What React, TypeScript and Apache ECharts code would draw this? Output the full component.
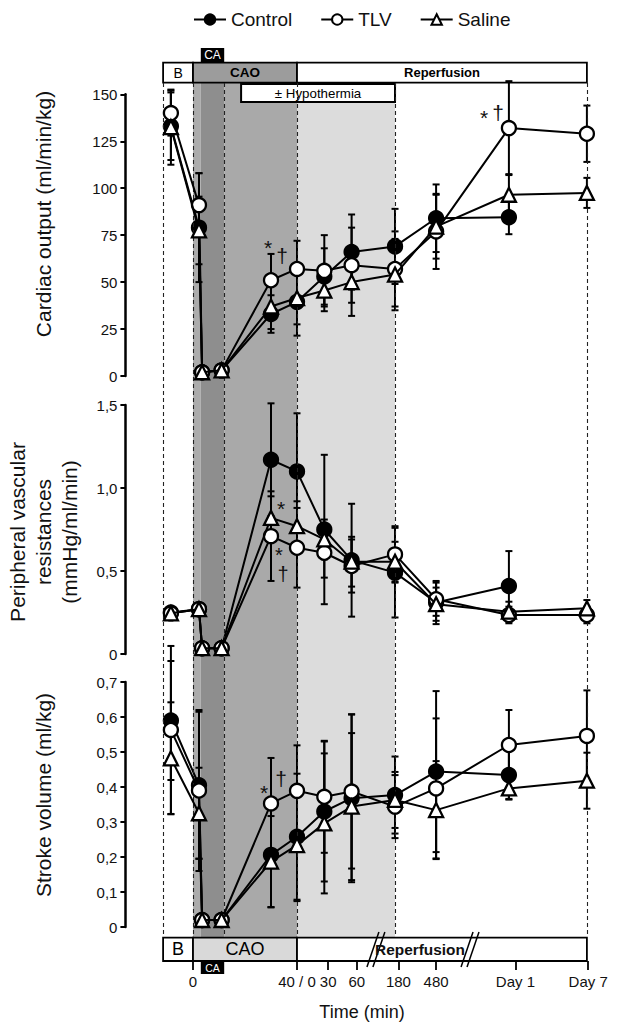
import React, { useEffect, useRef } from 'react';
import * as echarts from 'echarts';

const FONT = '"Liberation Sans", Arial, Helvetica, sans-serif';

// Time positions on a piecewise axis (1 unit = 1 min during CAO)
const timePos = [-8.5, 2.3, 3.5, 11, 30, 40, 50.5, 61, 77.7, 93.5, 121.5, 151.5];
const tickPos = [0, 40, 52, 63, 79, 93.5, 124, 152];
const tickLabels = ['0', '40 / 0', '30', '60', '180', '480', 'Day 1', 'Day 7'];

// Cardiac output (ml/min/kg)
const coControl = [133, 79, 2, 3, 33, 39.5, 53, 66, 69, 84, 84.5];
const coControlSD = [18, 29, 1, 1, 10, 18, 15, 20, 20, 18, 9];
const coTLV = [140, 91, 2, 3, 51, 57, 56, 59, 57, 77, 132, 129];
const coTLVSD = [12, 17, 1, 1, 14, 15, 19, 20, 20, 20, 25, 15];
const coSaline = [132.5, 77.5, 2, 3, 37, 41.5, 45.5, 50, 54, 79.5, 96.5, 97.5];
const coSalineSD = [20, 18, 1, 1, 12, 14, 11, 18, 19, 17, 11, 8];

// Peripheral vascular resistances (mmHg/ml/min)
const pvrControl = [0.25, 0.27, 0.035, 0.035, 1.17, 1.1, 0.75, 0.565, 0.49, 0.31, 0.41];
const pvrControlSD = [0.02, 0.03, 0.01, 0.01, 0.34, 0.35, 0.45, 0.34, 0.27, 0.13, 0.21];
const pvrTLV = [0.245, 0.27, 0.035, 0.035, 0.71, 0.64, 0.61, 0.53, 0.6, 0.33, 0.235, 0.235];
const pvrTLVSD = [0.02, 0.03, 0.01, 0.01, 0.27, 0.24, 0.15, 0.16, 0.17, 0.1, 0.05, 0.05];
const pvrSaline = [0.245, 0.27, 0.035, 0.035, 0.82, 0.77, 0.69, 0.556, 0.556, 0.3, 0.255, 0.275];
const pvrSalineSD = [0.02, 0.03, 0.01, 0.01, 0.13, 0.15, 0.12, 0.15, 0.12, 0.1, 0.06, 0.05];

// Stroke volume (ml/kg)
const svControl = [0.59, 0.405, 0.02, 0.02, 0.206, 0.258, 0.33, 0.368, 0.377, 0.444, 0.434];
const svControlSD = [0.17, 0.21, 0.01, 0.01, 0.15, 0.18, 0.2, 0.24, 0.11, 0.23, 0.07];
const svTLV = [0.563, 0.39, 0.02, 0.02, 0.353, 0.389, 0.372, 0.387, 0.344, 0.396, 0.52, 0.546];
const svTLVSD = [0.24, 0.23, 0.01, 0.01, 0.13, 0.13, 0.16, 0.22, 0.09, 0.2, 0.1, 0.13];
const svSaline = [0.482, 0.325, 0.02, 0.02, 0.187, 0.234, 0.296, 0.344, 0.363, 0.334, 0.396, 0.418];
const svSalineSD = [0.16, 0.13, 0.01, 0.01, 0.13, 0.16, 0.2, 0.21, 0.08, 0.14, 0.03, 0.08];

// Phases (axis units)
const phaseB = [-11.5, 0];
const phaseCAO = [0, 40];
const phaseReperf = [40, 151.5];
const phaseCA = [3, 12];
const phaseHypo = [18.5, 77.7];
const dashedAt = [-11.5, 0, 12, 40, 77.7, 151.5];

const XMIN = -26;
const XMAX = 156;
const GL = 125.4;
const GR = 30.4;

const groups = [
  { name: 'Control', symbol: 'circle', fill: '#000' },
  { name: 'TLV', symbol: 'circle', fill: '#fff' },
  { name: 'Saline', symbol: 'triangle', fill: '#fff' },
];

const panels = [
  { vals: [coControl, coTLV, coSaline], sds: [coControlSD, coTLVSD, coSalineSD] },
  { vals: [pvrControl, pvrTLV, pvrSaline], sds: [pvrControlSD, pvrTLVSD, pvrSalineSD] },
  { vals: [svControl, svTLV, svSaline], sds: [svControlSD, svTLVSD, svSalineSD] },
];

const commaFmt = (v: number) => (v === 0 ? '0' : v.toFixed(1).replace('.', ','));

function errRender(params: any, api: any) {
  const x = api.value(0);
  const lo = api.value(1);
  const hi = api.value(2);
  const p1 = api.coord([x, hi]);
  const p2 = api.coord([x, lo]);
  const w = 3.5;
  const st = { stroke: '#000', lineWidth: 2 };
  return {
    type: 'group',
    children: [
      { type: 'line', shape: { x1: p1[0], y1: p1[1], x2: p2[0], y2: p2[1] }, style: st },
      { type: 'line', shape: { x1: p1[0] - w, y1: p1[1], x2: p1[0] + w, y2: p1[1] }, style: st },
      { type: 'line', shape: { x1: p2[0] - w, y1: p2[1], x2: p2[0] + w, y2: p2[1] }, style: st },
    ],
  };
}

function box(x: number[], y: number[], fill: string, label: any, bw = 1.8) {
  return [
    {
      coord: [x[0], y[0]],
      itemStyle: { color: fill, borderColor: '#000', borderWidth: bw, opacity: 1 },
      label: label
        ? { show: true, position: 'inside', fontFamily: FONT, color: '#000', ...label }
        : { show: false },
    },
    { coord: [x[1], y[1]] },
  ];
}

export default function App() {
  const ref = useRef<HTMLDivElement>(null);
  useEffect(() => {
    document.body.style.margin = '0';
    if (!ref.current) return;
    const chart = echarts.init(ref.current, undefined, { renderer: 'svg' });

    const gridDefs = [
      { top: 94.3, height: 281.7 },
      { top: 405, height: 249 },
      { top: 682, height: 245 },
      { top: 937.7, height: 23.3 },
      { top: 0, height: 1030 },
    ];
    const grid = gridDefs.map((g) => ({ left: GL, right: GR, top: g.top, height: g.height }));

    const yBase = {
      position: 'left',
      z: 10,
      axisLine: { show: true, onZero: false, lineStyle: { color: '#000', width: 2.5 } },
      axisTick: { show: true, inside: false, length: 5, lineStyle: { color: '#000', width: 2 } },
      axisLabel: { fontSize: 15, fontFamily: FONT, color: '#111', margin: 8 },
      splitLine: { show: false },
    };

    const xAxis: any[] = [0, 1, 2].map((i) => ({
      type: 'value', gridIndex: i, min: XMIN, max: XMAX, show: false,
    }));
    xAxis.push({
      type: 'value', gridIndex: 3, min: XMIN, max: XMAX, position: 'bottom', z: 10,
      axisLine: { show: false, onZero: false },
      splitLine: { show: false },
      axisTick: { show: true, length: 9, customValues: tickPos, lineStyle: { color: '#000', width: 1.8 } },
      axisLabel: {
        show: true, customValues: tickPos, fontSize: 15, fontFamily: FONT, color: '#111', margin: 13,
        formatter: (v: number) => {
          const i = tickPos.findIndex((t) => Math.abs(t - v) < 1e-6);
          return i >= 0 ? tickLabels[i] : '';
        },
      },
      name: 'Time (min)', nameLocation: 'middle', nameGap: 42,
      nameTextStyle: { fontSize: 18, fontFamily: FONT, color: '#111' },
    });
    xAxis.push({ type: 'value', gridIndex: 4, min: XMIN, max: XMAX, show: false });

    const yAxis: any[] = [
      { type: 'value', gridIndex: 0, min: 0, max: 150, interval: 25, ...yBase },
      { type: 'value', gridIndex: 1, min: 0, max: 1.5, interval: 0.5, ...yBase,
        axisLabel: { ...yBase.axisLabel, formatter: commaFmt } },
      { type: 'value', gridIndex: 2, min: 0, max: 0.7, interval: 0.1, ...yBase,
        axisLabel: { ...yBase.axisLabel, formatter: commaFmt } },
      { type: 'value', gridIndex: 3, min: 0, max: 1, show: false },
      { type: 'value', gridIndex: 4, min: 0, max: 1030, inverse: true, show: false },
    ];

    const series: any[] = [];

    // Background bands
    series.push({
      type: 'line', xAxisIndex: 4, yAxisIndex: 4, data: [[-50, 2000]], symbol: 'none',
      silent: true, z: 1,
      markArea: {
        silent: true,
        data: [
          [{ coord: [0, 83], itemStyle: { color: '#acacac' } }, { coord: [3, 937] }],
          [{ coord: [3, 83], itemStyle: { color: '#8e8e8e' } }, { coord: [12, 937] }],
          [{ coord: [12, 83], itemStyle: { color: '#a9a9a9' } }, { coord: [40, 937] }],
          [{ coord: [40, 83], itemStyle: { color: '#dcdcdc' } }, { coord: [77.7, 937] }],
        ],
      },
    });
    // Dashed phase lines
    series.push({
      type: 'line', xAxisIndex: 4, yAxisIndex: 4, data: [[-50, 2000]], symbol: 'none',
      silent: true, z: 2,
      markLine: {
        silent: true, symbol: 'none', label: { show: false },
        lineStyle: { color: '#222', width: 1.1, type: [4, 3] },
        data: dashedAt.map((x) => [{ coord: [x, 83] }, { coord: [x, 937] }]),
      },
    });

    // Data series
    panels.forEach((p, pi) => {
      groups.forEach((g, gi) => {
        const vals = p.vals[gi];
        const sds = p.sds[gi];
        series.push({
          type: 'custom', name: `err-${pi}-${gi}`, xAxisIndex: pi, yAxisIndex: pi,
          renderItem: errRender, clip: false, silent: true, z: 3,
          encode: { x: 0, y: [1, 2] },
          data: vals.map((v, i) => [timePos[i], v - sds[i], v + sds[i]]),
        });
      });
      groups.forEach((g, gi) => {
        const vals = p.vals[gi];
        series.push({
          type: 'line', name: g.name, xAxisIndex: pi, yAxisIndex: pi,
          data: vals.map((v, i) => [timePos[i], v]),
          symbol: g.symbol, symbolSize: 14, showSymbol: true, clip: false,
          itemStyle: { color: g.fill, borderColor: '#000', borderWidth: 2.3 },
          lineStyle: { color: '#000', width: 2 },
          z: 4 + gi,
        });
      });
    });

    // Boxes (top phase bar, hypothermia, bottom phase bar, CA tags)
    series.push({
      type: 'line', xAxisIndex: 4, yAxisIndex: 4, data: [[-50, 2000]], symbol: 'none',
      silent: true, z: 8,
      markArea: {
        silent: true,
        data: [
          box(phaseB, [62.7, 82.7], '#fff', { formatter: 'B', fontSize: 14 }),
          box(phaseCAO, [62.7, 82.7], '#9c9c9c', { formatter: 'CAO', fontSize: 13.5, fontWeight: 'bold' }),
          box(phaseReperf, [62.7, 82.7], '#fff', { formatter: 'Reperfusion', fontSize: 13, fontWeight: 'bold' }),
          box(phaseCA, [48, 62.7], '#000', { formatter: 'CA', fontSize: 12, color: '#fff' }, 0),
          box(phaseHypo, [84, 102], '#fff', { formatter: '± Hypothermia', fontSize: 13.3 }, 2),
          box(phaseB, [937.7, 961], '#fff', { formatter: 'B', fontSize: 18 }),
          box(phaseCAO, [937.7, 961], '#d9d9d9', { formatter: 'CAO', fontSize: 18 }),
          box(phaseReperf, [937.7, 961], '#fff', null),
          box(phaseCA, [962, 974], '#000', { formatter: 'CA', fontSize: 10.5, color: '#fff' }, 0),
        ],
      },
      markLine: {
        silent: true, symbol: 'none', label: { show: false },
        lineStyle: { color: '#000', width: 1.5, type: 'solid' },
        data: [
          [{ coord: [66.9, 967] }, { coord: [71.5, 932] }],
          [{ coord: [69.2, 967] }, { coord: [73.8, 932] }],
          [{ coord: [103.1, 967] }, { coord: [107.7, 932] }],
          [{ coord: [105.4, 967] }, { coord: [110, 932] }],
        ],
      },
    });

    const txt = (text: string, x: number, y: number, size: number, extra: any = {}) => ({
      type: 'text', x, y, silent: true, z: 20,
      style: { text, fontSize: size, fontFamily: FONT, fill: '#111', align: 'center', verticalAlign: 'middle', ...extra },
    });

    const graphic: any[] = [
      { ...txt('Cardiac output (ml/min/kg)', 43, 214, 21), rotation: Math.PI / 2 },
      { ...txt('Peripheral vascular\nresistances\n(mmHg/ml/min)', 43.5, 532, 21, { lineHeight: 26 }), rotation: Math.PI / 2 },
      { ...txt('Stroke volume (ml/kg)', 43, 795, 21), rotation: Math.PI / 2 },
      txt('Reperfusion', 420, 949.5, 15.4, { fontWeight: 'bold' }),
      // significance marks
      txt('*', 268, 247, 21),
      txt('†', 282, 255, 21),
      txt('*', 484, 117, 21),
      txt('†', 498, 112, 21),
      txt('*', 281, 508, 21),
      txt('*', 279, 555, 20),
      txt('†', 283, 574, 20),
      txt('*', 264, 792, 21),
      txt('†', 281, 778, 21),
    ];

    chart.setOption({
      animation: false,
      backgroundColor: '#fff',
      legend: {
        data: ['Control', 'TLV', 'Saline'],
        top: 5, left: 188, itemGap: 28, itemWidth: 32, itemHeight: 13,
        selectedMode: false,
        textStyle: { fontSize: 19, fontFamily: FONT, color: '#111' },
      },
      grid, xAxis, yAxis, series, graphic,
    });
    return () => chart.dispose();
  }, []);
  return <div ref={ref} style={{ width: 629, height: 1030 }} />;
}
